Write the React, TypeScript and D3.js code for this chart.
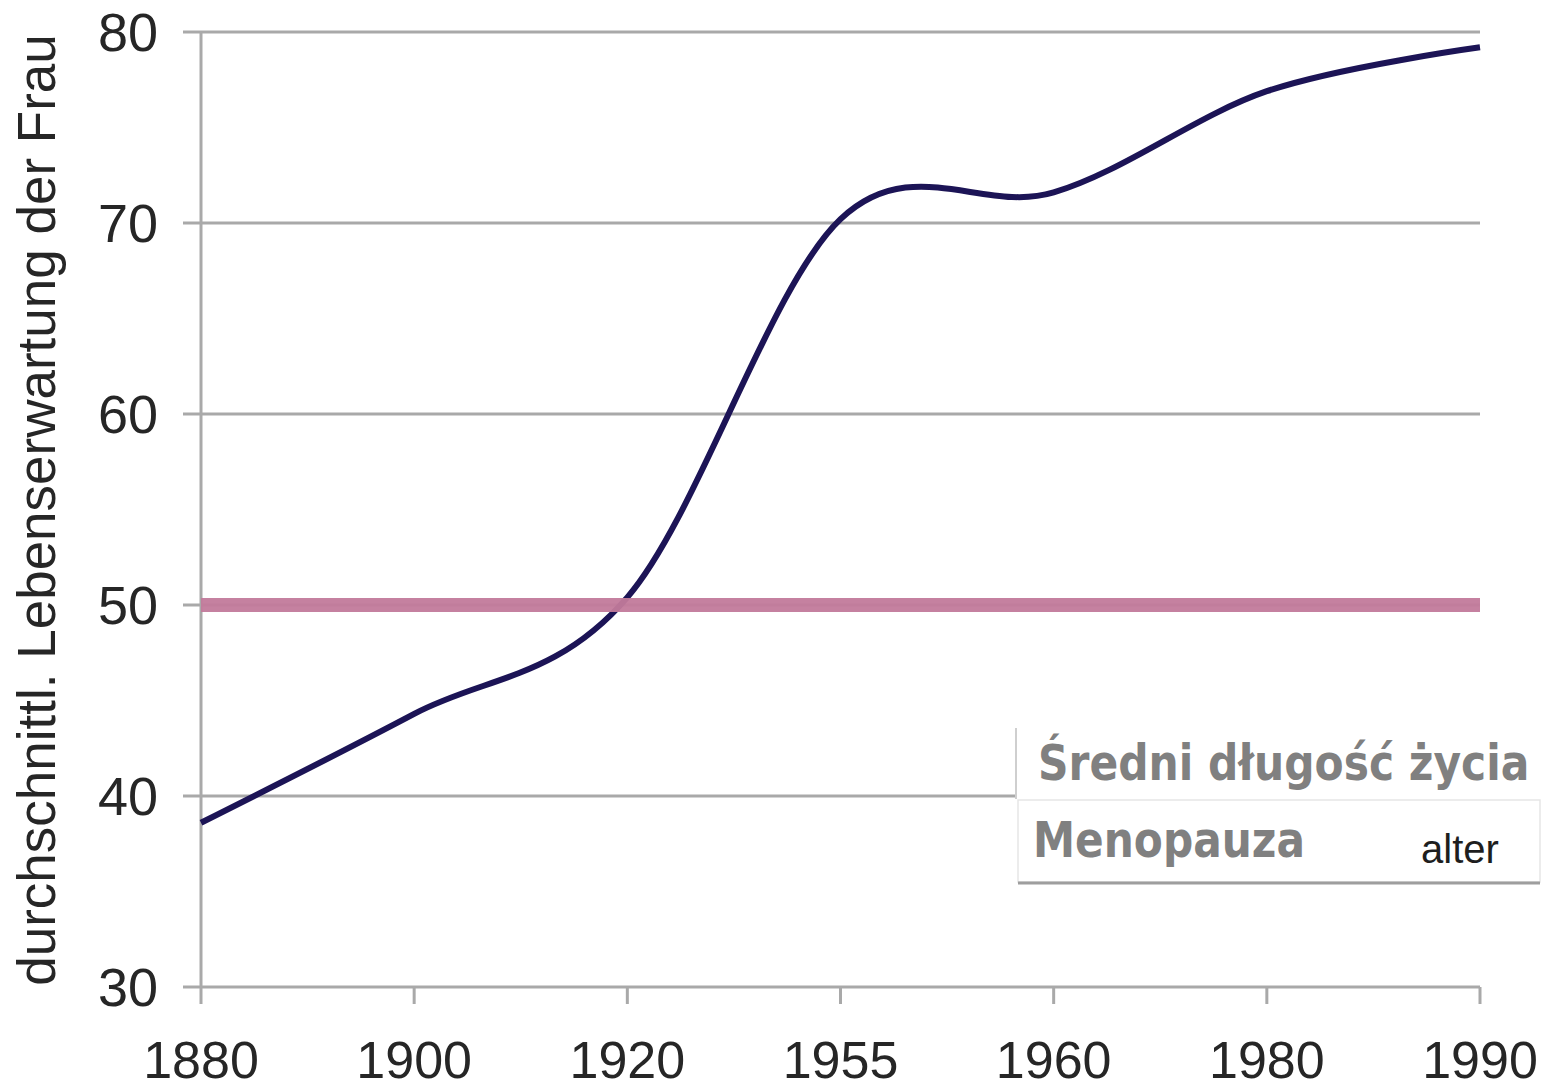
import React, { useEffect, useRef } from "react";
import * as d3 from "d3";

// values
const years = ["1880", "1900", "1920", "1955", "1960", "1980", "1990"];
const lifeExpectancy = [38.6, 44.3, 50.4, 70.2, 71.6, 76.9, 79.2];
const menopauseAge = [50, 50, 50, 50, 50, 50, 50];
const yTicks = [30, 40, 50, 60, 70, 80];
const yTitle = "durchschnittl. Lebenserwartung der Frau";
const legendTitle = "Średni długość życia";
const legendLabel = "Menopauza";
const legendExtra = "alter";

export default function App() {
  const svgRef = useRef<SVGSVGElement | null>(null);

  useEffect(() => {
    const w = 1543;
    const h = 1090;
    const svg = d3.select(svgRef.current).attr("width", w).attr("height", h);
    svg.selectAll("*").remove();

    const x = d3.scalePoint<string>().domain(years).range([201, 1480]);
    const y = d3.scaleLinear().domain([30, 80]).range([987, 32]);
    const grid = "#a9a9a9";
    const tickFont = "'Liberation Sans', Arial, sans-serif";
    const boldFont = "'DejaVu Sans', Verdana, sans-serif";

    //gridlines + small tick stubs left of the axis
    svg
      .append("g")
      .selectAll("line")
      .data(yTicks)
      .join("line")
      .attr("x1", 183)
      .attr("x2", 1480)
      .attr("y1", (d) => y(d))
      .attr("y2", (d) => y(d))
      .attr("stroke", grid)
      .attr("stroke-width", 3);

    //y axis line
    svg
      .append("line")
      .attr("x1", x(years[0])!)
      .attr("x2", x(years[0])!)
      .attr("y1", y(80))
      .attr("y2", y(30) + 17)
      .attr("stroke", grid)
      .attr("stroke-width", 3);

    //x tick marks
    svg
      .append("g")
      .selectAll("line")
      .data(years.slice(1))
      .join("line")
      .attr("x1", (d) => x(d)!)
      .attr("x2", (d) => x(d)!)
      .attr("y1", y(30))
      .attr("y2", y(30) + 17)
      .attr("stroke", grid)
      .attr("stroke-width", 3);

    //y tick labels
    svg
      .append("g")
      .selectAll("text")
      .data(yTicks)
      .join("text")
      .attr("x", 158)
      .attr("y", (d) => y(d))
      .attr("dy", "0.36em")
      .attr("text-anchor", "end")
      .attr("font-family", tickFont)
      .attr("font-size", 54)
      .attr("fill", "#262626")
      .text((d) => d);

    //x tick labels
    svg
      .append("g")
      .selectAll("text")
      .data(years)
      .join("text")
      .attr("x", (d) => x(d)!)
      .attr("y", 1078)
      .attr("text-anchor", "middle")
      .attr("font-family", tickFont)
      .attr("font-size", 52)
      .attr("fill", "#262626")
      .text((d) => d);

    //axis title
    svg
      .append("text")
      .attr("transform", `translate(55, 510) rotate(-90)`)
      .attr("text-anchor", "middle")
      .attr("font-family", tickFont)
      .attr("font-size", 53)
      .attr("fill", "#262626")
      .text(yTitle);

    //life expectancy curve (smoothed like the original)
    const line = d3
      .line<number>()
      .x((d, i) => x(years[i])!)
      .y((d) => y(d))
      .curve(d3.curveCardinal.tension(0));

    svg
      .append("path")
      .datum(lifeExpectancy)
      .attr("d", line)
      .attr("fill", "none")
      .attr("stroke", "#1c1456")
      .attr("stroke-width", 6)
      .attr("stroke-linejoin", "round");

    //menopause line
    const flat = d3
      .line<number>()
      .x((d, i) => x(years[i])!)
      .y((d) => y(d));

    svg
      .append("path")
      .datum(menopauseAge)
      .attr("d", flat)
      .attr("fill", "none")
      .attr("stroke", "#c27a9b")
      .attr("stroke-width", 14)
      .attr("opacity", 0.95);

    //legend box
    const lg = svg.append("g");
    lg.append("rect")
      .attr("x", 1017)
      .attr("y", 724)
      .attr("width", 526)
      .attr("height", 162)
      .attr("fill", "#ffffff");
    lg.append("line")
      .attr("x1", 1016)
      .attr("x2", 1016)
      .attr("y1", 728)
      .attr("y2", 799)
      .attr("stroke", "#cfcfcf")
      .attr("stroke-width", 2);
    lg.append("rect")
      .attr("x", 1018)
      .attr("y", 800)
      .attr("width", 522)
      .attr("height", 82)
      .attr("fill", "none")
      .attr("stroke", "#e6e6e6")
      .attr("stroke-width", 1.5);
    lg.append("line")
      .attr("x1", 1018)
      .attr("x2", 1540)
      .attr("y1", 883)
      .attr("y2", 883)
      .attr("stroke", "#9e9e9e")
      .attr("stroke-width", 3);

    // bold legend texts, squeezed horizontally like the original face
    lg.append("text")
      .attr("transform", "translate(1038, 780) scale(0.848, 1)")
      .attr("font-family", boldFont)
      .attr("font-weight", "bold")
      .attr("font-size", 50)
      .attr("fill", "#808080")
      .text(legendTitle);

    lg.append("text")
      .attr("transform", "translate(1033, 857) scale(0.846, 1)")
      .attr("font-family", boldFont)
      .attr("font-weight", "bold")
      .attr("font-size", 50)
      .attr("fill", "#808080")
      .text(legendLabel);

    lg.append("text")
      .attr("x", 1421)
      .attr("y", 863)
      .attr("font-family", tickFont)
      .attr("font-size", 40)
      .attr("fill", "#1e1e1e")
      .text(legendExtra);
  }, []);

  return (
    <div>
      <svg
        ref={svgRef}
        style={{ position: "absolute", left: 0, top: 0, background: "#fff" }}
      ></svg>
    </div>
  );
}
